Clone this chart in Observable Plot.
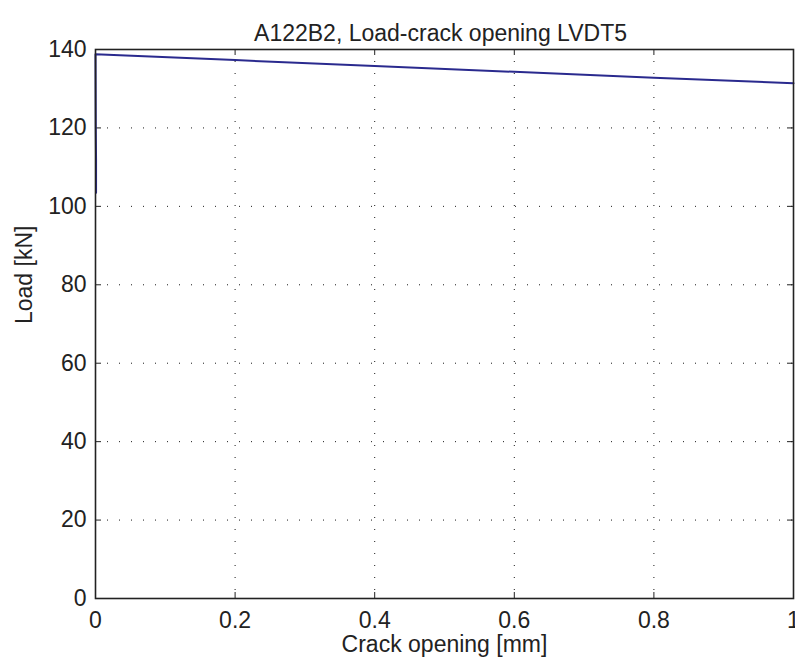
<!DOCTYPE html>
<html>
<head>
<meta charset="utf-8">
<script src="https://cdn.jsdelivr.net/npm/d3@7"></script>
<script src="https://cdn.jsdelivr.net/npm/@observablehq/plot@0.6"></script>
<style>
  html, body { margin: 0; padding: 0; background: #fff; }
</style>
</head>
<body>
<div id="chart"></div>
<script>
const title = "A122B2, Load-crack opening LVDT5";
const xLabel = "Crack opening [mm]";
const yLabel = "Load [kN]";

const crackOpening = [0.0008, 0.0008, 0.0004, 0, 0.2, 0.4, 0.6, 0.8, 1.0];
const loadKN = [103.5, 112, 120, 138.8, 137.3, 135.8, 134.3, 132.8, 131.4];

const xTicks = [0, 0.2, 0.4, 0.6, 0.8, 1];
const yTicks = [0, 20, 40, 60, 80, 100, 120, 140];

const data = crackOpening.map((x, i) => ({x, y: loadKN[i]}));

const W = 795, H = 668;
const mTop = 49, mRight = 2, mBottom = 70, mLeft = 95;
const plotW = W - mLeft - mRight, plotH = H - mTop - mBottom;
const tickLen = 6;
const ink = "#222";
const font = "'Liberation Sans', Arial, Helvetica, sans-serif";

const chart = Plot.plot({
  width: W,
  height: H,
  marginTop: mTop,
  marginRight: mRight,
  marginBottom: mBottom,
  marginLeft: mLeft,
  style: {fontSize: "23px", fontFamily: font, color: ink, background: "#fff", overflow: "visible"},
  x: {domain: [0, 1]},
  y: {domain: [0, 140]},
  marks: [
    Plot.gridX(xTicks, {stroke: "#000", strokeOpacity: 0.9, strokeDasharray: "1,11"}),
    Plot.gridY(yTicks, {stroke: "#000", strokeOpacity: 0.9, strokeDasharray: "1,11"}),
    Plot.tickX(xTicks, {x: d => d, stroke: ink, insetTop: plotH - tickLen}),
    Plot.tickX(xTicks, {x: d => d, stroke: ink, insetBottom: plotH - tickLen}),
    Plot.tickY(yTicks, {y: d => d, stroke: ink, insetRight: plotW - tickLen}),
    Plot.tickY(yTicks, {y: d => d, stroke: ink, insetLeft: plotW - tickLen}),
    Plot.line(data, {x: "x", y: "y", stroke: "#2a2a8e", strokeWidth: 2}),
    Plot.frame({stroke: ink, strokeWidth: 1.6}),
    Plot.axisX(xTicks, {tickSize: 0, tickPadding: 13, label: null, fill: ink, tickFormat: d => String(d)}),
    Plot.axisY(yTicks, {tickSize: 0, tickPadding: 9, label: null, fill: ink, tickFormat: d => String(d)}),
    Plot.text([title], {frameAnchor: "top", dy: -25, dx: -4, fill: ink}),
    Plot.text([xLabel], {frameAnchor: "bottom", dy: 53, fill: ink}),
    Plot.text([yLabel], {frameAnchor: "left", dx: -71, rotate: -90, fill: ink})
  ]
});
document.getElementById("chart").appendChild(chart);
</script>
</body>
</html>
